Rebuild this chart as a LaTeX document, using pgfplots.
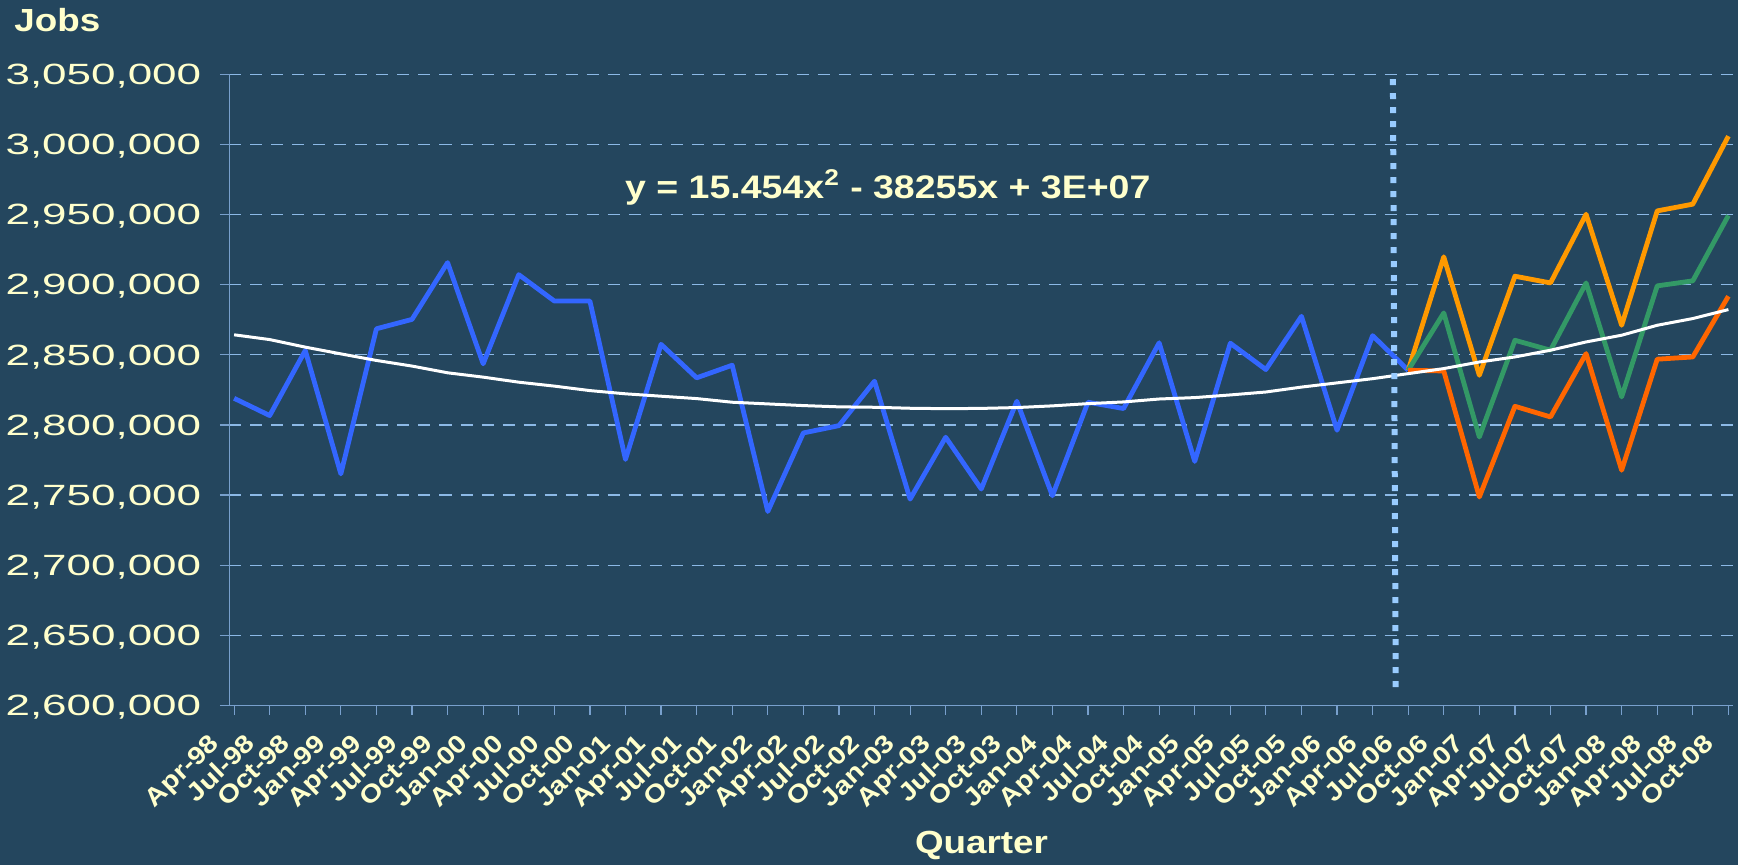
\documentclass[border=0pt]{standalone}
\usepackage{fontspec}
\setmainfont{Liberation Sans}[FakeStretch=1.15]
\newfontfamily\tickfont{Liberation Sans}[FakeStretch=1.5]
\usepackage{pgfplots}
\pgfplotsset{compat=1.18}
\definecolor{bg}{RGB}{36,70,94}
\definecolor{cream}{RGB}{255,255,204}
\definecolor{blueline}{RGB}{51,102,255}
\definecolor{orangeline}{RGB}{255,153,0}
\definecolor{greenline}{RGB}{51,153,102}
\definecolor{redline}{RGB}{255,102,0}
\definecolor{gridc}{RGB}{140,185,230}
\definecolor{axisc}{RGB}{120,160,205}
\definecolor{dotc}{RGB}{153,204,255}
\begin{document}
\begin{tikzpicture}
\fill[bg] (-114.75pt,-79.85pt) rectangle (754.25pt,352.65pt);
\path[use as bounding box] (-114.75pt,-79.85pt) rectangle (754.25pt,352.65pt);
\begin{axis}[
  at={(0pt,0pt)}, anchor=south west,
  scale only axis, width=751.75pt, height=315.4pt,
  xmin=-0.13, xmax=42.13, ymin=2600000, ymax=3050000,
  enlargelimits=false,
  scaled y ticks=false,
  axis lines=left,
  axis line style={-, draw=axisc, line width=0.75pt},
  tick align=outside,
  major tick length=4.75pt,
  tick style={draw=axisc, line width=0.6pt},
  ymajorgrids=true,
  grid style={draw=gridc, line width=0.6pt, dash pattern=on 6pt off 4.5pt},
  ytick={2600000,2650000,2700000,2750000,2800000,2850000,2900000,2950000,3000000,3050000},
  yticklabels={{2,600,000},{2,650,000},{2,700,000},{2,750,000},{2,800,000},{2,850,000},{2,900,000},{2,950,000},{3,000,000},{3,050,000}},
  yticklabel style={font=\tickfont\fontsize{14.65}{16}\selectfont, text=cream, inner sep=0pt, anchor=east, text depth=0pt, xshift=-9.25pt},
  xtick={0,...,42},
  xticklabels={Apr-98,Jul-98,Oct-98,Jan-99,Apr-99,Jul-99,Oct-99,Jan-00,Apr-00,Jul-00,Oct-00,Jan-01,Apr-01,Jul-01,Oct-01,Jan-02,Apr-02,Jul-02,Oct-02,Jan-03,Apr-03,Jul-03,Oct-03,Jan-04,Apr-04,Jul-04,Oct-04,Jan-05,Apr-05,Jul-05,Oct-05,Jan-06,Apr-06,Jul-06,Oct-06,Jan-07,Apr-07,Jul-07,Oct-07,Jan-08,Apr-08,Jul-08,Oct-08},
  xticklabel style={font=\bfseries\fontsize{12.5}{14}\selectfont, text=cream, inner sep=0pt, xshift=-13pt, yshift=-8.5pt, rotate=44, anchor=north east},
]
\addplot[blueline, line width=2.4pt, line join=round] table {
x y
0 2819000
1 2806700
2 2853100
3 2765100
4 2868600
5 2875300
6 2915800
7 2843600
8 2907200
9 2888400
10 2888400
11 2775400
12 2857500
13 2833600
14 2842600
15 2738300
16 2794300
17 2799500
18 2831200
19 2747100
20 2791200
21 2754300
22 2816900
23 2749500
24 2816200
25 2811700
26 2858600
27 2774000
28 2858300
29 2839500
30 2877500
31 2796200
32 2863700
33 2839000
};
\addplot[orangeline, line width=2.4pt, line join=round] table {
x y
33 2839000
34 2919900
35 2835400
36 2906100
37 2901300
38 2950300
39 2871100
40 2952700
41 2957500
42 3006000
};
\addplot[greenline, line width=2.4pt, line join=round] table {
x y
33 2839000
34 2879900
35 2791400
36 2860400
37 2853300
38 2901300
39 2820000
40 2899200
41 2902800
42 2949400
};
\addplot[redline, line width=2.4pt, line join=round] table {
x y
33 2839000
34 2838500
35 2748600
36 2813300
37 2805700
38 2850900
39 2767700
40 2846900
41 2848500
42 2891800
};
\addplot[white, line width=1.5pt, line join=round] table {
x y
0 2864300
1 2860900
2 2855500
3 2850700
4 2846000
5 2842000
6 2837200
7 2834100
8 2830500
9 2827700
10 2824500
11 2822200
12 2820500
13 2818800
14 2816200
15 2815000
16 2813800
17 2812900
18 2812600
19 2811900
20 2811600
21 2811800
22 2812400
23 2813600
24 2815200
25 2816400
26 2818500
27 2819500
28 2821400
29 2823500
30 2827000
31 2830000
32 2833000
33 2836600
34 2840200
35 2844900
36 2848500
37 2853300
38 2859200
39 2864000
40 2871100
41 2875900
42 2882300
};
\addplot[dotc, line width=3pt, dash pattern=on 3pt off 4pt] coordinates {(32.65,2613000) (32.57,3050000)};
\node[anchor=base west, inner sep=0pt, text=cream, font=\bfseries\fontsize{16.3}{18}\selectfont] at (axis cs:10.98,2961800) {y = 15.454x\textsuperscript{2} - 38255x + 3E+07};
\end{axis}
\node[anchor=base west, inner sep=0pt, text=cream, font=\bfseries\fontsize{16}{18}\selectfont] at (-107.75pt,336.8pt) {Jobs};
\node[anchor=base, inner sep=0pt, text=cream, font=\bfseries\fontsize{16}{18}\selectfont] at (376pt,-74.35pt) {Quarter};
\end{tikzpicture}
\end{document}
